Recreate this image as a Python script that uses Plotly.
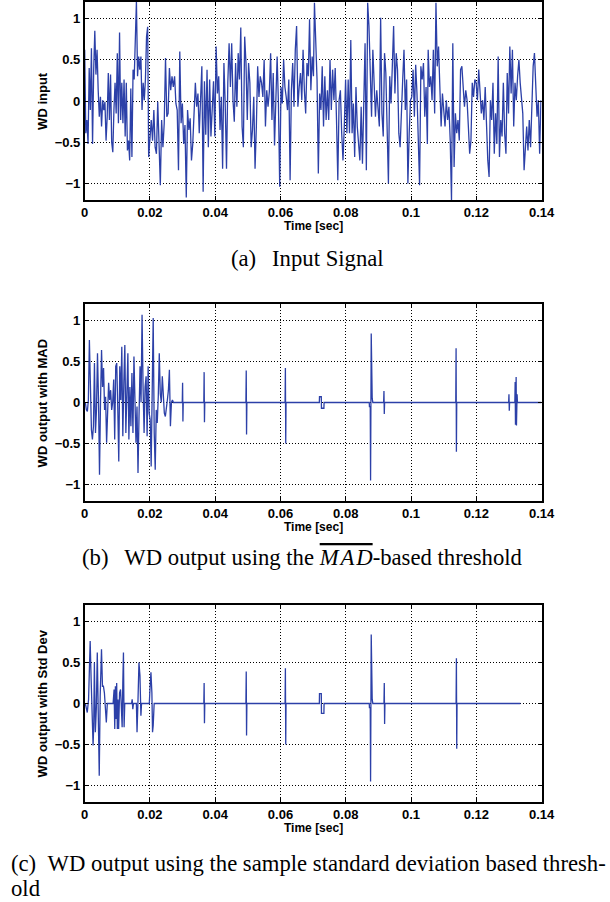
import numpy as np
import plotly.graph_objects as go

# ---------------- data ----------------
# Input signal, read in segments: (t_start, t_end, values)
in_seg1 = [0.62,-0.39,-0.23,-0.52,0.4,-0.11,0.64,-0.52,0.38,0.85,0.32,0.62,0.13,-0.19,0.05,-0.31,0.01,-0.11,-0.01,-0.48,
           -0.19,0.34,-0.23,0.32,-0.5,-0.62,-0.11,0.22,-0.15,0.58,-0.27,0.83,-0.23,0.22,-0.27,0.26,-0.43,0.22,-0.6,-0.48,
           -0.72,0.15,-0.68,0.38,0.26,0.62,1.21,0.3,0.54,0.38,0.54,-0.11,0.22,0.01,0.26,0.78,0.9]
in_seg2 = [-0.68,-0.39,-0.23,-0.48,-0.11,-0.56,-0.64,-0.01,-0.48,-1.02,-0.23,-0.56,-0.27,0.52,-0.19,-0.15,0.4,0.13,0.3,0.17,
           0.3,-0.03,-0.11,-0.84,0.6,-0.27,-0.03,-0.52,-0.29,-1.17,-0.11,-0.35,-0.21,-0.72,-0.52,-0.19,0.22,-0.07,0.09,-0.39,0.07]
in_seg3 = [0.42,-1.1,0.24,-0.41,0.38,-0.56,0.26,-0.43,0.01,0.24,-0.43,0.66,0.09,0.3,-0.35,0.05,-0.82,0.46,-0.03,-0.82,
           0.22,0.7,0.17,0.7,0.01,-0.25,0.46,-0.07,0.58,0.26,0.89,-0.31,-0.56,0.78,0.46,-0.23,0.46,0.22,-0.56,-0.35,
           0.05,-0.82,-0.31,0.42,0.05,0.3,0.22,0.05,0.5,-0.31,0.13,-0.07,0.11,0.58,-0.23,0.34,-0.54,0.05,0.54,-0.03,
           -1.04,0.17,-0.03,0.5,0.17,0.05,-0.11,0.26,-0.96,0.13,0.46,-0.07,0.62,0.91,-0.07,0.17,0.34,0.01,0.62,0.13,
           -0.15,0.46,0.3,0.99,0.13,0.54,0.3]
in_seg4 = [1.19,0.62,0.26,-0.88,0.09,-0.11,0.42,-0.31,0.3,-0.23,0.13,-0.23,0.5,-0.11,0.38,0.01,0.4,-0.23,-0.96,0.01,
           0.13,-0.39,-0.72,-0.31,0.26,-0.39,0.26,-0.39,0.74,-0.39,-0.03,-0.68,0.17,-0.31,-0.56,-0.72,-0.07,-0.76,-0.03,0.7,
           -0.84,1.19,0.91,0.42,-0.19,0.62,0.09,-0.19,0.13,-0.15,-0.31,1.01,-0.15,-0.43,0.58,0.34,-0.23,-1.0,0.3,-0.03,
           0.42,0.91,0.09,0.58,0.38,-0.39,-0.56,-0.23,0.26,0.62,-0.11,0.26,-1.0,-0.39,0.01,0.05,0.38,-0.19,0.44,0.09,
           -0.43,-1.02,0.42,0.26,0.46,-0.19,0.17,-0.52]
in_seg5 = [0.62,0.17,0.3,0.01,0.62,-0.15,1.19,0.42,0.66,0.13,-0.31,0.09,-0.11,-0.31,0.01,-0.23,-0.07,-0.48,-1.21,0.7,
           -0.8,-0.15,-0.39,-0.23,-0.48,0.38,0.42,0.22,-0.07,0.13,0.01,-0.31,-0.64,-0.48,0.22,0.05,0.26,0.22,0.01,0.38,
           0.09,-0.15,0.01,-0.23,0.17,-0.43,-0.72,-0.92,0.01,-0.23,0.22,-0.64,-0.15,-0.52,0.54,-0.68,-0.23,-0.43,0.22,-0.39,
           -0.64,0.34,-0.15,0.66,0.09,0.62,-0.31,0.22,0.01,0.3,0.5,0.22,0.01,-0.15,-0.84,-0.56,-0.31,-0.6,-0.23,-0.56,
           0.09,0.42,0.58,0.17,-0.19,0.01,-0.64,0.01]
in_segments = [(0.0, 0.0193, in_seg1), (0.0196, 0.0355, in_seg2), (0.0359, 0.0701, in_seg3),
               (0.0704, 0.1050, in_seg4), (0.10525, 0.1398, in_seg5)]

# WD output with MAD threshold: dense burst, then sparse (time in ms, value) pairs
mad_burst_t = (0.2, 27.2)
mad_burst = [0,-0.09,-0.11,0.03,0.76,0.28,-0.33,-0.45,-0.29,0.48,-0.37,-0.09,0.6,0.03,-0.88,0.03,0.64,0.19,0.42,-0.09,
             0.07,-0.49,0.03,0.24,0.03,0.15,-0.09,0,0.28,-0.45,0.44,0.48,-0.05,-0.72,0.44,0.03,0.68,-0.41,0.24,0.7,
             -0.37,0.11,0.6,-0.45,0.19,-0.29,0.36,-0.37,0.56,0.03,-0.49,-0.05,-0.86,-0.17,0.44,0,1.07,0.19,-0.37,0.19,
             0.32,-0.41,0.44,-0.13,-0.21,-0.78,0.6,1.03,-0.37,-0.82,-0.09,-0.25,0.07,0.6,0.11,0,0.32,0.11,-0.13,-0.17,
             -0.09,0.03,0.15,0.4,-0.29,0,0.03,0]
mad_sparse_ms = [27.2,29.9,30.0,30.1,30.2,36.5,36.6,36.7,36.8,49.4,49.45,49.5,49.6,49.7,61.4,61.5,61.6,61.7,
                 71.9,71.95,72.5,72.55,73.3,73.35,87.2,87.25,87.5,87.6,87.8,87.9,88.0,88.1,88.3,
                 91.6,91.7,91.8,91.9,113.7,113.8,113.9,114.0,129.9,130.0,130.1,130.2,
                 131.8,131.9,132.0,132.2,132.3,132.5,132.6,140.0]
mad_sparse_v = [0,0,0.24,-0.23,0,0,0.37,-0.24,0,0,-0.18,0.39,-0.39,0,0,0.42,-0.5,0,
                0,0.07,0.07,-0.07,-0.07,0,0,-0.05,-0.05,-0.95,0.84,0.1,0.3,0.05,0,
                0,0.14,-0.14,0,0,0.66,-0.6,0,0,0.1,-0.1,0,
                0,0.25,-0.27,0.31,-0.28,0.1,0,0]

# WD output with Std Dev threshold: (time in ms, value)
std_ms = [0.2,0.5,0.79,1.19,1.49,1.68,1.98,2.28,2.57,2.77,2.97,3.27,3.56,3.86,4.16,4.46,4.75,5.15,5.45,5.74,
          6.04,6.34,6.63,6.93,8.71,9.01,9.21,9.41,9.6,9.8,10.0,10.2,10.4,10.69,10.99,11.19,11.48,11.68,11.88,12.08,
          12.28,14.36,14.55,14.75,14.95,15.84,16.04,16.34,16.63,16.93,17.23,17.42,19.8,20.0,20.3,20.59,20.79,20.99,21.29,
          36.5,36.6,36.7,36.8,49.4,49.45,49.5,49.6,49.7,61.4,61.5,61.6,61.7,
          71.9,71.95,72.5,72.55,73.3,73.35,87.2,87.25,87.5,87.6,87.8,87.9,88.0,88.1,88.3,
          91.7,91.8,91.9,92.0,113.8,113.9,114.0,114.1,133.5]
std_v = [0,-0.09,-0.11,0.05,0.46,0.76,0.29,-0.35,-0.51,-0.27,0.5,-0.35,-0.07,0.62,-0.11,-0.88,0.09,0.66,0.21,0.21,
         0.13,-0.03,-0.23,0,0,0.17,-0.31,0.21,-0.19,0.25,-0.31,0.05,-0.31,0.13,0.17,0,-0.29,0.25,0.62,-0.29,
         0,0,0.05,-0.07,0,0,-0.35,0.05,0.5,0.34,-0.15,0,0,0.17,0.38,0.13,-0.35,-0.27,0,
         0,0.25,-0.24,0,0,-0.18,0.39,-0.39,0,0,0.43,-0.5,0,
         0,0.12,0.12,-0.12,-0.12,0,0,-0.05,-0.05,-0.95,0.84,0.1,0.25,0.05,0,
         0,0.25,-0.25,0,0,0.55,-0.55,0,0]

x_ticks = [0, 0.02, 0.04, 0.06, 0.08, 0.1, 0.12, 0.14]
y_ticks = [-1, -0.5, 0, 0.5, 1]
y_titles = ["WD input", "WD output with MAD", "WD output with Std Dev"]

# ---------------- build series ----------------
t_in, v_in = [], []
for t0, t1, vals in in_segments:
    t_in += list(np.linspace(t0, t1, len(vals)))
    v_in += vals

t_mad = list(np.linspace(mad_burst_t[0], mad_burst_t[1], len(mad_burst)) / 1000) + [m / 1000 for m in mad_sparse_ms]
v_mad = mad_burst + mad_sparse_v
t_std = [m / 1000 for m in std_ms]
v_std = std_v

W, H = 610, 902
LINE = "#2c40a8"
panels = [(2, 200), (304, 501), (605, 802)]   # top/bottom pixel rows of plot areas
xl, xr = 83, 553

fig = go.Figure()
series = [(t_in, v_in), (t_mad, v_mad), (t_std, v_std)]
for i, (tt, vv) in enumerate(series):
    fig.add_trace(go.Scatter(x=tt, y=vv, mode="lines", line=dict(color=LINE, width=1.3),
                             xaxis="x" if i == 0 else f"x{i+1}", yaxis="y" if i == 0 else f"y{i+1}",
                             showlegend=False, hoverinfo="skip"))

tickfont = dict(family="Liberation Sans, Arial, sans-serif", size=13, color="black", weight="bold")
for i, (top, bot) in enumerate(panels):
    sfx = "" if i == 0 else str(i + 1)
    dom_y = [1 - bot / H, 1 - top / H]
    common = dict(showline=True, linecolor="black", linewidth=1.5,
                  mirror="ticks", ticks="inside", ticklen=4, tickcolor="black",
                  showgrid=True, gridcolor="black", griddash="1px,2px", gridwidth=1,
                  zeroline=False, tickfont=tickfont)
    fig.layout["xaxis" + sfx] = dict(domain=[xl / W, xr / W], range=[0, 0.14], tickvals=x_ticks,
                                     ticktext=[("%g" % v) for v in x_ticks], anchor="y" + sfx, **common)
    fig.layout["yaxis" + sfx] = dict(domain=dom_y, range=[-1.2, 1.2], tickvals=y_ticks,
                                     ticktext=[("%g" % v).replace("-", "\u2212") for v in y_ticks],
                                     anchor="x" + sfx, **common)

ann = []
lab_font = dict(family="Liberation Sans, Arial, sans-serif", size=12, color="black", weight="bold")
cap_font = dict(family="Liberation Serif, Times New Roman, serif", size=22.7, color="black")
for i, (top, bot) in enumerate(panels):
    mid = (top + bot) / 2
    ann.append(dict(text=y_titles[i], x=40 / W, y=1 - mid / H, xref="paper", yref="paper",
                    textangle=-90, showarrow=False, font=dict(lab_font, size=13), xanchor="center", yanchor="middle"))
    ann.append(dict(text="Time [sec]", x=318 / W, y=1 - (bot + 26) / H, xref="paper", yref="paper",
                    showarrow=False, font=lab_font, xanchor="center", yanchor="middle"))

ann.append(dict(text="(a)\u2002\u2009Input Signal", x=312 / W, y=1 - 258 / H, xref="paper", yref="paper",
                showarrow=False, font=cap_font, xanchor="center", yanchor="middle"))
ann.append(dict(text="(b)\u2002\u2009WD output using the <span style=\"text-decoration:overline\"><i>M\u200aA\u200aD</i></span>-based threshold",
                x=307 / W, y=1 - 557 / H, xref="paper", yref="paper",
                showarrow=False, font=cap_font, xanchor="center", yanchor="middle"))
ann.append(dict(text="(c)\u2002WD output using the sample standard deviation based thresh-", x=5 / W, y=1 - 863 / H,
                xref="paper", yref="paper", showarrow=False, font=cap_font, xanchor="left", yanchor="middle"))
ann.append(dict(text="old", x=5 / W, y=1 - 888 / H, xref="paper", yref="paper",
                showarrow=False, font=cap_font, xanchor="left", yanchor="middle"))

fig.update_layout(width=W, height=H, margin=dict(l=0, r=0, t=0, b=0), paper_bgcolor="white",
                  plot_bgcolor="white", annotations=ann, showlegend=False)
fig.write_html("out.html")
